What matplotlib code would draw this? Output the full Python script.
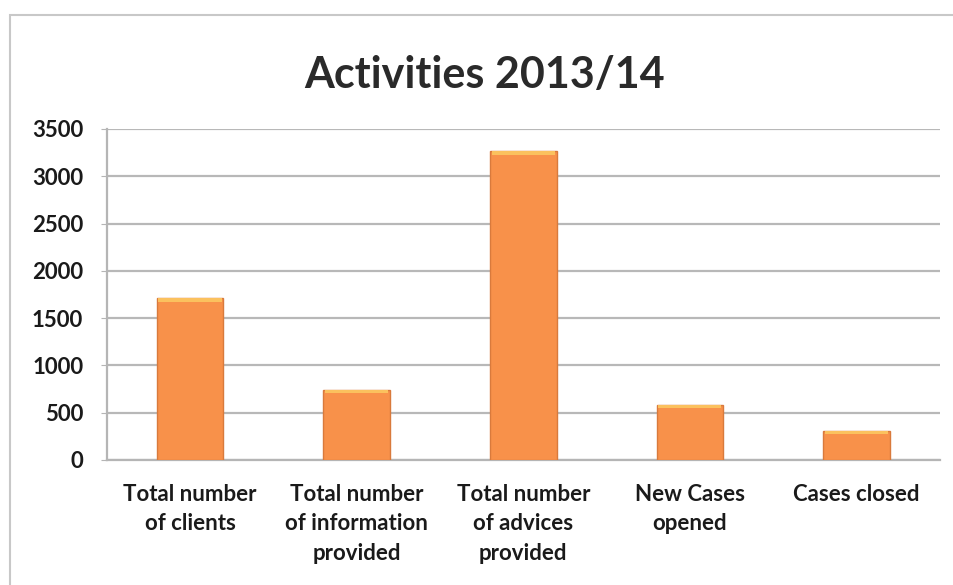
import matplotlib.pyplot as plt
from matplotlib.patches import Rectangle

# data
categories = ['Total number\nof clients', 'Total number\nof information\nprovided',
              'Total number\nof advices\nprovided', 'New Cases\nopened', 'Cases closed']
values = [1710, 740, 3265, 580, 305]
yticks = [0, 500, 1000, 1500, 2000, 2500, 3000, 3500]

plt.rcParams['font.family'] = ['Lato', 'DejaVu Sans']

fig = plt.figure(figsize=(9.54, 5.85), dpi=100)
ax = fig.add_axes([0.112, 0.2137, 0.873, 0.5658])

x = range(len(categories))
ax.bar(x, values, width=0.4, color='#F8914A', edgecolor='#D97A3C', linewidth=1, zorder=3)
# lighter top cap like the Excel gradient
for xi, v in zip(x, values):
    ax.bar(xi, 35, bottom=v - 35, width=0.38, color='#FBC15E', linewidth=0, zorder=4)

ax.set_xlim(-0.5, len(categories) - 0.5)
ax.set_ylim(0, 3500)
ax.set_yticks(yticks)
ax.set_xticks(list(x))
ax.set_xticklabels(categories, fontsize=16, fontweight='bold', color='#1a1a1a',
                   linespacing=1.5)
ax.tick_params(axis='x', length=0, pad=17)
ax.tick_params(axis='y', length=4, color='#b5b5b5', labelsize=16, pad=13)
for lab in ax.get_yticklabels():
    lab.set_fontweight('bold')
    lab.set_color('#1a1a1a')

ax.grid(axis='y', color='#b8b8b8', linewidth=1.6, zorder=0)
for side in ['top', 'right']:
    ax.spines[side].set_visible(False)
ax.spines['left'].set_color('#b5b5b5')
ax.spines['bottom'].set_color('#b5b5b5')
ax.spines['left'].set_linewidth(1.6)
ax.spines['bottom'].set_linewidth(1.6)

fig.text(0.508, 0.872, 'Activities 2013/14', ha='center', va='center',
         fontsize=31, fontweight='bold', color='#2a2a2a')

# outer chart frame
fig.patches.append(Rectangle((0.011, -0.01), 1.1, 0.985, transform=fig.transFigure,
                             fill=False, edgecolor='#c8c8c8', linewidth=1.5))

fig.savefig('out.png', dpi=100)
